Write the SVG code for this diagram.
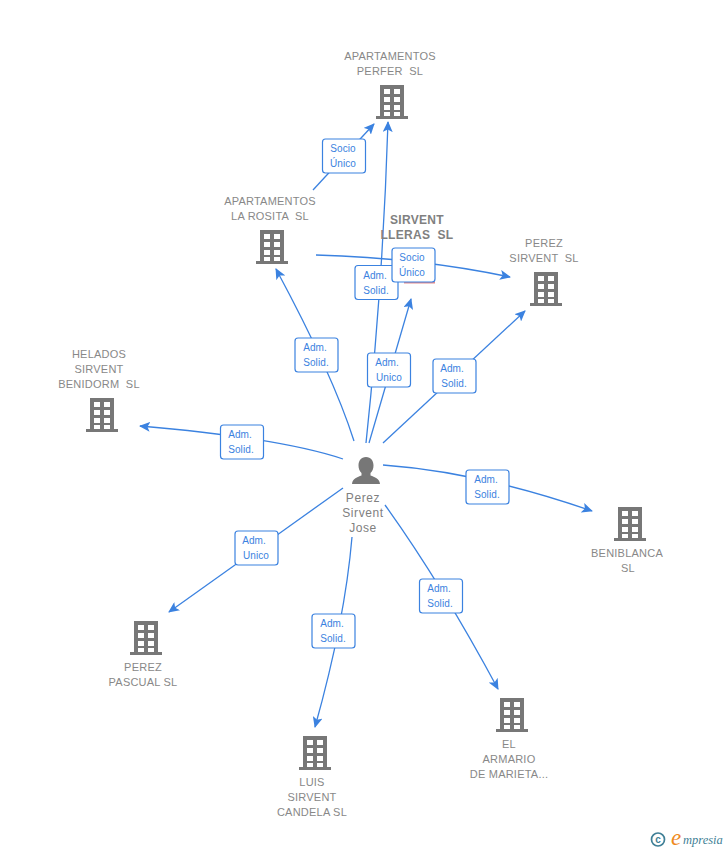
<svg xmlns="http://www.w3.org/2000/svg" width="728" height="850" viewBox="0 0 728 850">
<style>
.t{font-family:"Liberation Sans",Arial,sans-serif;font-size:11px;fill:#888;text-anchor:middle;white-space:pre;letter-spacing:.22px}
.b{font-weight:bold;font-size:12px;fill:#808080;letter-spacing:.3px}
.p{font-size:12px;fill:#808080;letter-spacing:.6px}
.l{font-family:"Liberation Sans",Arial,sans-serif;font-size:10px;fill:#3b82e0;text-anchor:middle;letter-spacing:.1px}
.box{fill:#fff;stroke:#3b82e0;stroke-width:1.2}
.c{fill:none;stroke:#3b82e0;stroke-width:1.3;marker-end:url(#a)}
</style>
<defs>
<marker id="a" markerWidth="12" markerHeight="10" refX="10" refY="5" orient="auto" markerUnits="userSpaceOnUse"><path d="M0 0L11 5L0 10L2.5 5Z" fill="#3b82e0"/></marker>
<g id="bld">
<path fill="#777" fill-rule="evenodd" d="M4 0H28V31H32V34H0V31H4ZM8 4V9H14V4ZM18 4V9H24V4ZM8 12V17H14V12ZM18 12V17H24V12ZM8 20V25H14V20ZM18 20V25H24V20ZM8 27V31H14V27ZM18 27V31H24V27Z"/>
</g>
</defs>
<g id="connectors">
<path class="c" d="M313 190L374 124"/>
<path class="c" d="M366 443Q383 283 388 122"/>
<path class="c" d="M316 255Q420 258 510 277"/>
<path class="c" d="M354 441Q333 375 276 269"/>
<path class="c" d="M369 443L411 299"/>
<path class="c" d="M383 443L525 311"/>
<path class="c" d="M343 459Q280 438 140 426"/>
<path class="c" d="M383 465Q480 472 592 511"/>
<path class="c" d="M343 488L169 612"/>
<path class="c" d="M352 537Q345 620 315 727"/>
<path class="c" d="M385 505Q441 583 498 689"/>
</g>
<g id="n-perfer"><use href="#bld" x="376" y="85"/><text class="t"><tspan x="390" y="60">APARTAMENTOS</tspan><tspan x="390" y="75">PERFER  SL</tspan></text></g>
<g id="n-rosita"><use href="#bld" x="256" y="230"/><text class="t"><tspan x="270" y="205">APARTAMENTOS</tspan><tspan x="270" y="220">LA ROSITA  SL</tspan></text></g>
<g id="n-sirvent"><path d="M404 282.500H435" stroke="#e58a8a" stroke-width="2"/><text class="t b"><tspan x="417" y="224">SIRVENT</tspan><tspan x="417" y="239">LLERAS  SL</tspan></text></g>
<g id="n-perez-sirvent"><use href="#bld" x="530" y="272"/><text class="t"><tspan x="544" y="247">PEREZ</tspan><tspan x="544" y="262">SIRVENT  SL</tspan></text></g>
<g id="n-helados"><use href="#bld" x="86" y="398"/><text class="t"><tspan x="99" y="358">HELADOS</tspan><tspan x="99" y="373">SIRVENT</tspan><tspan x="99" y="388">BENIDORM  SL</tspan></text></g>
<g id="n-beniblanca"><use href="#bld" x="614" y="507"/><text class="t"><tspan x="627" y="557">BENIBLANCA</tspan><tspan x="628" y="572">SL</tspan></text></g>
<g id="n-pascual"><use href="#bld" x="130" y="621"/><text class="t"><tspan x="143" y="671">PEREZ</tspan><tspan x="143" y="686">PASCUAL SL</tspan></text></g>
<g id="n-luis"><use href="#bld" x="299" y="736"/><text class="t"><tspan x="312" y="786">LUIS</tspan><tspan x="312" y="801">SIRVENT</tspan><tspan x="312" y="816">CANDELA SL</tspan></text></g>
<g id="n-marieta"><use href="#bld" x="496" y="698"/><text class="t"><tspan x="509" y="748">EL</tspan><tspan x="509" y="763">ARMARIO</tspan><tspan x="509" y="778">DE MARIETA...</tspan></text></g>
<g id="n-person"><path fill="#777" d="M366 457c5 0 7.500 4 7.500 8.500 0 3-1 5.500-3 7.500v2.500c4 1.500 9 3 9.500 8.500h-28c.5-5.500 5.500-7 9.500-8.500V473c-2-2-3-4.500-3-7.500 0-4.500 2.500-8.500 7.500-8.500Z"/><text class="t p"><tspan x="363" y="502">Perez</tspan><tspan x="363" y="517">Sirvent</tspan><tspan x="363" y="532">Jose</tspan></text></g>
<g id="labels">
<g><rect class="box" x="322.500" y="139" width="43" height="34" rx="3"/><text class="l"><tspan x="343" y="152">Socio</tspan><tspan x="343" y="167">Único</tspan></text></g>
<g><rect class="box" x="355" y="265.500" width="43" height="34" rx="3"/><text class="l"><tspan x="375" y="279">Adm.</tspan><tspan x="376" y="294">Solid.</tspan></text></g>
<g><rect class="box" x="392" y="248" width="43" height="34" rx="3"/><text class="l"><tspan x="412" y="261">Socio</tspan><tspan x="412" y="276">Único</tspan></text></g>
<g><rect class="box" x="295" y="338" width="43" height="34" rx="3"/><text class="l"><tspan x="315" y="351">Adm.</tspan><tspan x="316" y="366">Solid.</tspan></text></g>
<g><rect class="box" x="367.500" y="353" width="43" height="34" rx="3"/><text class="l"><tspan x="387" y="366">Adm.</tspan><tspan x="389" y="381">Unico</tspan></text></g>
<g><rect class="box" x="433" y="359" width="43" height="34" rx="3"/><text class="l"><tspan x="452" y="372">Adm.</tspan><tspan x="454" y="387">Solid.</tspan></text></g>
<g><rect class="box" x="220.500" y="425" width="43" height="34" rx="3"/><text class="l"><tspan x="240" y="438">Adm.</tspan><tspan x="241" y="453">Solid.</tspan></text></g>
<g><rect class="box" x="466" y="470" width="43" height="34" rx="3"/><text class="l"><tspan x="486" y="483">Adm.</tspan><tspan x="487" y="498">Solid.</tspan></text></g>
<g><rect class="box" x="235" y="531" width="43" height="34" rx="3"/><text class="l"><tspan x="254" y="544">Adm.</tspan><tspan x="256" y="559">Unico</tspan></text></g>
<g><rect class="box" x="312" y="614" width="43" height="34" rx="3"/><text class="l"><tspan x="332" y="627">Adm.</tspan><tspan x="333" y="642">Solid.</tspan></text></g>
<g><rect class="box" x="419.500" y="579" width="43" height="34" rx="3"/><text class="l"><tspan x="439" y="592">Adm.</tspan><tspan x="440" y="607">Solid.</tspan></text></g>
</g>
<g id="logo">
<circle cx="658" cy="839.500" r="6.500" fill="none" stroke="#3f7f96" stroke-width="1.700"/>
<text x="658" y="843" font-family="Liberation Sans,sans-serif" font-size="10" font-weight="bold" fill="#3f7f96" text-anchor="middle">c</text>
<text x="671" y="845" font-family="Liberation Serif,serif" font-size="23" font-style="italic" fill="#ef8a1d">e</text>
<text x="683" y="844" font-family="Liberation Serif,serif" font-size="12.500" font-style="italic" fill="#3f7f96">mpresia</text>
</g>
</svg>
